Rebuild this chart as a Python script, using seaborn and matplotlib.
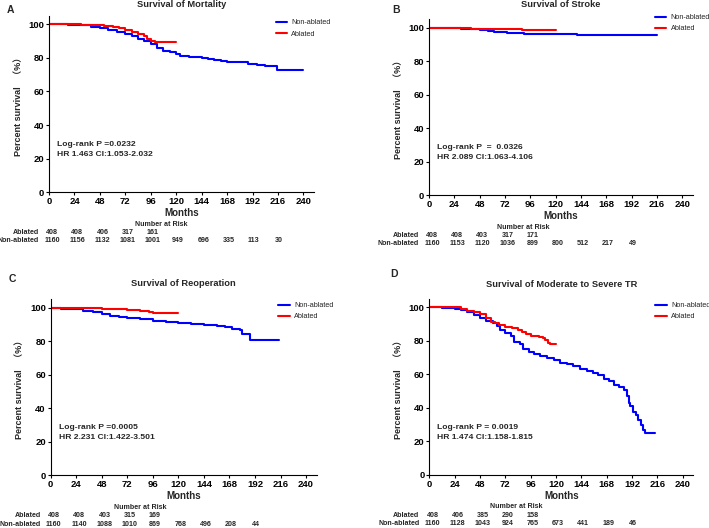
import pandas as pd
import matplotlib.pyplot as plt
import seaborn as sns
from matplotlib.lines import Line2D
from matplotlib import transforms

sns.set_style("ticks")
plt.rcParams['font.family'] = ['Liberation Sans', 'Noto Sans CJK SC', 'DejaVu Sans']
plt.rcParams['font.weight'] = 'bold'

groups = ['Non-ablated', 'Ablated']
palette = {'Non-ablated': '#0000ff', 'Ablated': '#ff0000'}
risk_months = [0, 24, 48, 72, 96, 120, 144, 168, 192, 216]

# Panel A - mortality
a_t_non = [0, 18, 30, 40, 48, 56, 64, 72, 78, 84, 90, 96, 102, 108, 114, 120, 124, 132, 144, 150,
           156, 162, 168, 180, 188, 196, 204, 215, 240]
a_s_non = [100, 99.8, 99.3, 98.6, 97.8, 96.7, 95.5, 94.2, 93.0, 91.5, 89.8, 88.0, 86.0, 84.0, 83.5,
           82.4, 81.0, 80.6, 80.2, 79.5, 78.6, 78.2, 77.7, 77.5, 76.2, 75.8, 75.2, 72.5, 72.5]
a_t_abl = [0, 30, 44, 52, 60, 66, 72, 78, 84, 90, 92, 96, 100, 120]
a_s_abl = [100, 99.8, 99.5, 99.0, 98.3, 97.5, 96.5, 95.5, 94.0, 93.0, 91.0, 90.3, 89.3, 89.3]
a_risk_abl = [408, 408, 406, 317, 161]
a_risk_non = [1160, 1156, 1132, 1081, 1001, 949, 696, 335, 113, 30]

# Panel B - stroke
b_t_non = [0, 20, 30, 40, 48, 56, 62, 68, 74, 84, 90, 100, 120, 130, 140, 150, 216]
b_s_non = [100, 99.8, 99.5, 99.2, 98.8, 98.2, 97.6, 97.3, 97.0, 96.9, 96.5, 96.4, 96.2, 96.0,
           95.9, 95.8, 95.8]
b_t_abl = [0, 26, 40, 56, 88, 120]
b_s_abl = [100, 99.8, 99.5, 99.2, 98.8, 98.8]
b_risk_abl = [408, 408, 403, 317, 171]
b_risk_non = [1160, 1153, 1120, 1036, 899, 800, 512, 217, 49]

# Panel C - reoperation
c_t_non = [0, 10, 20, 30, 40, 48, 56, 64, 72, 84, 96, 108, 120, 132, 144, 156, 164, 170, 178,
           180, 187, 215]
c_s_non = [100, 99.5, 99.0, 98.3, 97.2, 96.2, 95.2, 94.6, 94.0, 93.2, 92.3, 91.5, 91.0, 90.3,
           89.6, 89.2, 88.2, 87.5, 86.8, 84.3, 81.0, 81.0]
c_t_abl = [0, 36, 48, 60, 72, 84, 92, 96, 120]
c_s_abl = [100, 99.8, 99.4, 99.0, 98.6, 98.0, 97.6, 97.0, 97.0]
c_risk_abl = [408, 408, 403, 315, 169]
c_risk_non = [1160, 1140, 1088, 1010, 869, 768, 496, 208, 44]

# Panel D - moderate to severe TR
d_t_non = [0, 12, 24, 30, 36, 42, 48, 54, 60, 64, 67, 72, 77, 80, 86, 89, 94, 99, 105, 111, 118,
           124, 130, 136, 143, 149, 155, 160, 165, 170, 175, 180, 184, 187, 189, 190, 193, 196,
           198, 200, 202, 204, 214]
d_s_non = [100, 99.8, 99.3, 98.5, 97.0, 95.5, 93.8, 92.0, 90.5, 88.8, 86.5, 85.0, 83.0, 79.5,
           78.0, 75.0, 73.5, 72.0, 71.0, 70.0, 68.5, 67.0, 66.0, 64.8, 63.3, 62.0, 61.0, 59.5,
           57.5, 56.0, 53.5, 52.5, 50.5, 47.0, 43.0, 41.0, 37.5, 36.0, 33.0, 30.0, 27.0, 25.0, 25.0]
d_t_abl = [0, 20, 30, 36, 42, 48, 54, 58, 62, 66, 72, 78, 84, 88, 92, 96, 104, 108, 110, 112,
           114, 120]
d_s_abl = [100, 100, 99.2, 98.0, 97.3, 96.0, 93.5, 91.5, 90.5, 89.5, 88.5, 87.5, 86.5, 85.5,
           84.0, 83.0, 82.5, 81.5, 80.5, 79.0, 78.2, 78.2]
d_risk_abl = [408, 406, 385, 290, 158]
d_risk_non = [1160, 1128, 1043, 924, 765, 673, 441, 189, 46]

panels = [
    dict(letter='A', title='Survival of Mortality', pos=(49, 192.3, 265, 176.4),
         t_non=a_t_non, s_non=a_s_non, t_abl=a_t_abl, s_abl=a_s_abl,
         p='Log-rank P =0.0232', hr='HR 1.463 CI:1.053-2.032',
         r_abl=a_risk_abl, r_non=a_risk_non, nar_x=106, leg_y=0.98, title_y=1.067,
         letter_xy=(10, 10)),
    dict(letter='B', title='Survival of Stroke', pos=(429, 195, 264, 175.7),
         t_non=b_t_non, s_non=b_s_non, t_abl=b_t_abl, s_abl=b_s_abl,
         p='Log-rank P  =  0.0326', hr='HR 2.089 CI:1.063-4.106',
         r_abl=b_risk_abl, r_non=b_risk_non, nar_x=89, leg_y=1.03, title_y=1.085,
         letter_xy=(396, 10)),
    dict(letter='C', title='Survival of Reoperation', pos=(50.7, 475.3, 266, 176),
         t_non=c_t_non, s_non=c_s_non, t_abl=c_t_abl, s_abl=c_s_abl,
         p='Log-rank P =0.0005', hr='HR 2.231 CI:1.422-3.501',
         r_abl=c_risk_abl, r_non=c_risk_non, nar_x=84, leg_y=0.984, title_y=1.087,
         letter_xy=(12, 279)),
    dict(letter='D', title='Survival of Moderate to Severe TR', pos=(429.3, 475, 264, 176),
         t_non=d_t_non, s_non=d_s_non, t_abl=d_t_abl, s_abl=d_s_abl,
         p='Log-rank P = 0.0019', hr='HR 1.474 CI:1.158-1.815',
         r_abl=d_risk_abl, r_non=d_risk_non, nar_x=82, leg_y=0.982, title_y=1.081,
         letter_xy=(394, 274)),
]

W, H = 709, 528
fig = plt.figure(figsize=(W / 100, H / 100), dpi=100)

for p in panels:
    l, b, w, h = p['pos']
    ax = fig.add_axes([l / W, 1 - b / H, w / W, h / H])
    df = pd.concat([
        pd.DataFrame({'Months': p['t_non'], 'Survival': p['s_non'], 'group': 'Non-ablated'}),
        pd.DataFrame({'Months': p['t_abl'], 'Survival': p['s_abl'], 'group': 'Ablated'}),
    ])
    sns.lineplot(data=df, x='Months', y='Survival', hue='group', hue_order=groups,
                 palette=palette, estimator=None, drawstyle='steps-post', linewidth=1.5,
                 legend=False, ax=ax)
    ax.set_xlim(0, 250)
    ax.set_ylim(0, 105)
    ax.set_xticks(range(0, 241, 24))
    ax.set_yticks(range(0, 101, 20))
    ax.tick_params(direction='out', length=2.5, width=0.8, pad=1, labelsize=6.8, colors='black')
    sns.despine(ax=ax)
    for sp in ['left', 'bottom']:
        ax.spines[sp].set_linewidth(0.8)
        ax.spines[sp].set_color('black')
    ax.set_xlabel('Months', fontsize=7, fontweight='bold', labelpad=1.5)
    ax.set_ylabel('Percent survival   （%）', fontsize=6.5, fontweight='bold', labelpad=4)

    ax.text(0.5, p['title_y'], p['title'], transform=ax.transAxes, ha='center', va='center',
            fontsize=6.7, fontweight='bold')
    fig.text(p['letter_xy'][0] / W, 1 - p['letter_xy'][1] / H, p['letter'], ha='center',
             va='center', fontsize=7.5, fontweight='bold')

    ax.text(7.4, 28.5, p['p'], ha='left', va='center', fontsize=6.1, fontweight='bold')
    ax.text(7.4, 22.6, p['hr'], ha='left', va='center', fontsize=6.1, fontweight='bold')

    handles = [Line2D([], [], color=palette[g], lw=1.5) for g in groups]
    leg = ax.legend(handles, groups, loc='upper left', bbox_to_anchor=(0.855, p['leg_y']),
                    frameon=False, fontsize=5.2, handlelength=1.6, handletextpad=0.6,
                    labelspacing=0.55, borderpad=0, borderaxespad=0)
    for t in leg.get_texts():
        t.set_fontweight('normal')

    # number at risk table
    tr = transforms.blended_transform_factory(ax.transData, ax.transAxes)
    ax.text(p['nar_x'], -32 / h, 'Number at Risk', transform=tr, ha='center', va='center',
            fontsize=5.1, fontweight='bold', clip_on=False)
    ax.text(-9.5, -40.5 / h, 'Ablated', transform=tr, ha='right', va='center',
            fontsize=5.1, fontweight='bold')
    ax.text(-9.5, -48.7 / h, 'Non-ablated', transform=tr, ha='right', va='center',
            fontsize=5.1, fontweight='bold')
    for m, n in zip(risk_months, p['r_abl']):
        ax.text(3 + m * 0.99, -40.5 / h, str(n), transform=tr, ha='center', va='center',
                fontsize=5.1, fontweight='bold')
    for m, n in zip(risk_months, p['r_non']):
        ax.text(3 + m * 0.99, -48.7 / h, str(n), transform=tr, ha='center', va='center',
                fontsize=5.1, fontweight='bold')

fig.savefig('out.png', dpi=100)
